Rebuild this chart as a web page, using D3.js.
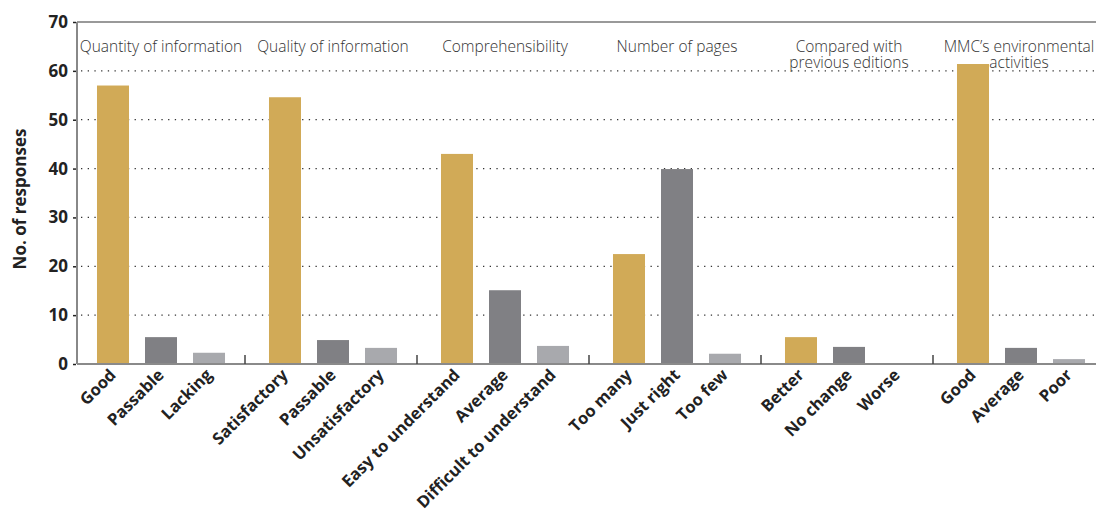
<!DOCTYPE html>
<html><head><meta charset="utf-8">
<script src="https://cdn.jsdelivr.net/npm/d3@7"></script>
<style>
body{margin:0;background:#fff;}
svg{display:block;font-family:"Open Sans","Noto Sans",sans-serif;}
</style></head>
<body><svg id="c" width="1096" height="512"></svg>
<script>
const groups = ["Quantity of information","Quality of information","Comprehensibility","Number of pages","Compared with|previous editions","MMC’s environmental|activities"];
const categories = [
  ["Good","Passable","Lacking"],
  ["Satisfactory","Passable","Unsatisfactory"],
  ["Easy to understand","Average","Difficult to understand"],
  ["Too many","Just right","Too few"],
  ["Better","No change","Worse"],
  ["Good","Average","Poor"]
];
const values = [
  [57, 5.5, 2.3],
  [54.6, 4.9, 3.3],
  [43, 15.1, 3.7],
  [22.5, 39.9, 2.1],
  [5.5, 3.5, 0],
  [61.4, 3.3, 1.0]
];
const yTicks = [0,10,20,30,40,50,60,70];
const colors = ["#d1aa57","#808084","#a8a9ad"];

(function(){
const svg = d3.select("#c");
const pLeft = 77, pTop = 22, pBottom = 364, pRight = 1096;
const y = d3.scaleLinear().domain([0,70]).range([pBottom, pTop]);
const x0 = d3.scaleBand().domain(d3.range(groups.length)).range([75, 75 + 172*6]).padding(0);
const x1 = d3.scaleBand().domain([0,1,2]).range([0, x0.bandwidth()]).paddingInner(1/3).paddingOuter(0.458);

// gridlines
svg.append("g").selectAll("line").data(yTicks.filter(t => t>0 && t<70)).join("line")
  .attr("x1", pLeft+4).attr("x2", pRight).attr("y1", d=>y(d)).attr("y2", d=>y(d))
  .attr("stroke", "#333").attr("stroke-width", 1.3).attr("stroke-dasharray", "1.3,5.4");

// bars
const g = svg.append("g").selectAll("g").data(values).join("g")
  .attr("transform", (d,i)=>`translate(${x0(i)},0)`);
g.selectAll("rect").data(d=>d).join("rect")
  .attr("x", (d,j)=>x1(j)).attr("width", x1.bandwidth())
  .attr("y", d=>y(d)).attr("height", d=>pBottom - y(d))
  .attr("fill", (d,j)=>colors[j]);

// frame lines
svg.append("line").attr("x1", pLeft).attr("x2", pRight).attr("y1", pTop).attr("y2", pTop)
  .attr("stroke", "#777").attr("stroke-width", 1.5);
svg.append("line").attr("x1", pLeft).attr("x2", pLeft).attr("y1", pTop).attr("y2", pBottom)
  .attr("stroke", "#888").attr("stroke-width", 2);
svg.append("line").attr("x1", pLeft).attr("x2", pRight).attr("y1", pBottom).attr("y2", pBottom)
  .attr("stroke", "#8a8a8a").attr("stroke-width", 2);

// y axis
const yAxis = d3.axisLeft(y).tickValues(yTicks).tickSize(3).tickPadding(5).tickFormat(d3.format("d"));
const ya = svg.append("g").attr("transform", `translate(${pLeft-1},0)`).call(yAxis);
ya.select(".domain").remove();
ya.selectAll("line").attr("stroke", "#222").attr("stroke-width", 1.5);
ya.selectAll("text").attr("font-size", 17).attr("font-weight", "bold").attr("fill", "#222")
  .attr("font-family", "'Open Sans',sans-serif");

svg.append("text").attr("transform", `translate(26,${(pTop+pBottom)/2+6}) rotate(-90)`)
  .attr("text-anchor", "middle").attr("font-size", 17).attr("font-weight", "bold").attr("fill", "#222")
  .text("No. of responses");

// group separators
svg.append("g").selectAll("line").data(d3.range(1, groups.length)).join("line")
  .attr("x1", d=>x0(d)-2).attr("x2", d=>x0(d)-2).attr("y1", pBottom-9).attr("y2", pBottom)
  .attr("stroke", "#444").attr("stroke-width", 1.5);

// group titles
svg.append("g").selectAll("text").data(groups).join("text")
  .attr("text-anchor", "middle").attr("font-size", 15.5).attr("font-weight", 300).attr("fill", "#333")
  .attr("x", (d,i)=>x0(i) + x0.bandwidth()/2 - (i===5 ? 2 : 0)).attr("y", 52)
  .each(function(d){
    const parts = d.split("|");
    const xx = d3.select(this).attr("x");
    d3.select(this).selectAll("tspan").data(parts).join("tspan")
      .attr("x", xx).attr("dy", (p,k)=>k===0?0:16).text(p=>p);
  });

// x labels
const lab = [];
categories.forEach((cats,i)=>cats.forEach((c,j)=>lab.push({c, cx: x0(i)+x1(j)+x1.bandwidth()/2})));
svg.append("g").selectAll("text").data(lab).join("text")
  .attr("transform", d=>`translate(${d.cx+4},${pBottom+12}) rotate(-45)`)
  .attr("text-anchor", "end").attr("font-size", 16.5).attr("font-weight", "bold").attr("fill", "#222")
  .text(d=>d.c);
})();
</script></body></html>
